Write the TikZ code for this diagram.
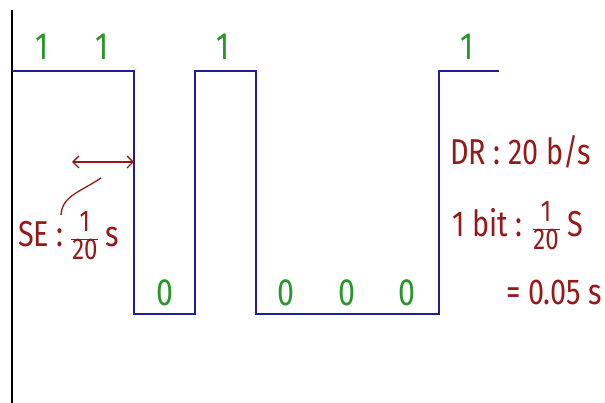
\documentclass[tikz,border=0pt]{standalone}
\usepackage{fontspec}
\usepackage{graphicx}
\setmainfont{Fira Sans}
\usetikzlibrary{arrows.meta}
\definecolor{sigblue}{RGB}{30,30,150}
\definecolor{inkred}{RGB}{150,25,25}
\definecolor{inkgreen}{RGB}{40,150,40}
\newcommand{\hfrac}[2]{$\vcenter{\hbox{\fontsize{30}{32}\selectfont\setlength{\tabcolsep}{1pt}\renewcommand{\arraystretch}{0.85}\begin{tabular}{c}#1\\[-1pt]\hline #2\end{tabular}}}$}
\newcommand{\narrow}[1]{\scalebox{0.8}[1]{#1}}
\begin{document}
\begin{tikzpicture}[x=1pt,y=-1pt,
  signal/.style={draw=sigblue,line width=1.6pt},
  axisline/.style={draw=black,line width=1.6pt},
  bitlabel/.style={text=inkgreen,font=\fontsize{38}{40}\selectfont,inner sep=0pt},
  note/.style={text=inkred,font=\fontsize{36}{38}\selectfont,inner sep=0pt},
  noteline/.style={draw=inkred,line width=1.3pt}]
\useasboundingbox (0,0) rectangle (605,403);
% axis
\coordinate (axTop) at (12,10);
\coordinate (axBot) at (12,403);
\draw[axisline] (axTop) -- (axBot);
% signal
\draw[signal] (12,71) -- (134,71) -- (134,314) -- (195,314) -- (195,71) -- (256,71)
  -- (256,314) -- (439,314) -- (439,71) -- (499,71);
% bits
\node[bitlabel] (b1) at (42,47) {\narrow{1}};
\node[bitlabel] (b2) at (102,47) {\narrow{1}};
\node[bitlabel] (b3) at (165,293) {\narrow{0}};
\node[bitlabel] (b4) at (223,47) {\narrow{1}};
\node[bitlabel] (b5) at (286,293) {\narrow{0}};
\node[bitlabel] (b6) at (347,293) {\narrow{0}};
\node[bitlabel] (b7) at (407,293) {\narrow{0}};
\node[bitlabel] (b8) at (467,47) {\narrow{1}};
% arrow
\coordinate (aL) at (72,162);
\coordinate (aR) at (134,162);
\draw[noteline,{Straight Barb[length=6pt,width=12pt]}-{Straight Barb[length=6pt,width=12pt]}] (aL) -- (aR);
\coordinate (cS) at (101,178);
\coordinate (cE) at (61,215);
\draw[noteline] (cS) .. controls (80,192) and (62,196) .. (cE);
% notes
\node[note,anchor=west] (se) at (18,240) {\narrow{SE : \hfrac{1}{20} s}};
\node[note,anchor=west] (dr) at (450,152) {\narrow{DR : 20 b/s}};
\node[note,anchor=west] (bit) at (452,230) {\narrow{1 bit : \hfrac{1}{20} S}};
\node[note,anchor=west] (eq) at (506,292) {\narrow{= 0.05 s}};
\end{tikzpicture}
\end{document}
